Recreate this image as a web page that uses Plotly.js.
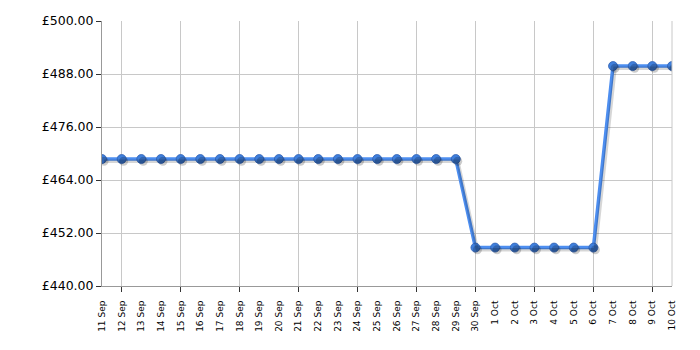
<!DOCTYPE html>
<html>
<head>
<meta charset="utf-8">
<script src="https://cdn.plot.ly/plotly-3.0.1.min.js"></script>
<style>html,body{margin:0;padding:0;background:#fff;}#chart{width:700px;height:350px;}</style>
</head>
<body>
<div id="chart"></div>
<script>
const dates = ["11 Sep","12 Sep","13 Sep","14 Sep","15 Sep","16 Sep","17 Sep","18 Sep","19 Sep","20 Sep",
  "21 Sep","22 Sep","23 Sep","24 Sep","25 Sep","26 Sep","27 Sep","28 Sep","29 Sep","30 Sep",
  "1 Oct","2 Oct","3 Oct","4 Oct","5 Oct","6 Oct","7 Oct","8 Oct","9 Oct","10 Oct"];
const prices = [468.75,468.75,468.75,468.75,468.75,468.75,468.75,468.75,468.75,468.75,
  468.75,468.75,468.75,468.75,468.75,468.75,468.75,468.75,468.75,448.7,
  448.7,448.7,448.7,448.7,448.7,448.7,489.8,489.8,489.8,489.8];
const yTicks = [440,452,464,476,488,500];
const yTickText = ["£440.00","£452.00","£464.00","£476.00","£488.00","£500.00"];
const gridIdx = [1,4,7,10,13,16,19,22,25,28];

const idx = dates.map((d,i)=>i);
const font = "DejaVu Sans, Verdana, sans-serif";

const shadow = {
  x: idx, y: prices, xaxis: 'x3', yaxis: 'y3', type: 'scatter', mode: 'lines+markers',
  line: {color: 'rgba(0,0,0,0.16)', width: 3.5},
  marker: {size: 9, color: 'rgba(0,0,0,0.2)'},
  hoverinfo: 'skip', showlegend: false
};
const main = {
  x: idx, y: prices, type: 'scatter', mode: 'lines+markers',
  line: {color: '#4d8ef0', width: 3.5},
  marker: {size: 9, color: '#3f7fdc', line: {color: '#3262b2', width: 0.8}},
  showlegend: false
};
const gridTrace = {x: [0], y: [440], xaxis: 'x2', yaxis: 'y', mode: 'markers',
  marker: {opacity: 0}, hoverinfo: 'skip', showlegend: false};

const layout = {
  width: 700, height: 350,
  margin: {l: 102, r: 28, t: 21, b: 64},
  paper_bgcolor: '#fff', plot_bgcolor: '#fff',
  font: {family: font, color: '#000'},
  xaxis: {
    range: [0, 29], tickvals: idx, ticktext: dates, tickangle: -90,
    showgrid: false, zeroline: false, showline: true, linecolor: '#999', linewidth: 1,
    ticks: 'outside', ticklen: 10, tickcolor: 'rgba(0,0,0,0)',
    tickfont: {family: font, size: 9, color: '#000'}
  },
  xaxis2: {
    overlaying: 'x', range: [0, 29], tickvals: gridIdx, showticklabels: false,
    showgrid: true, gridcolor: '#c8c8c8', gridwidth: 1, zeroline: false,
    ticks: 'outside', ticklen: 5, tickcolor: '#333', anchor: 'y'
  },
  xaxis3: {overlaying: 'x', range: [-0.1, 28.9], visible: false, anchor: 'y3'},
  yaxis: {
    range: [440, 500], tickvals: yTicks, ticktext: yTickText,
    showgrid: true, gridcolor: '#c8c8c8', gridwidth: 1, zeroline: false,
    showline: true, linecolor: '#999', linewidth: 1,
    ticks: 'outside', ticklen: 5, tickcolor: '#333',
    tickfont: {family: font, size: 12.5, color: '#000'}
  },
  yaxis3: {overlaying: 'y', range: [440.5, 500.5], visible: false, anchor: 'x3'},
  shapes: [{type: 'line', xref: 'paper', yref: 'paper', x0: 1, x1: 1, y0: 0, y1: 1,
    line: {color: '#c8c8c8', width: 1}}],
  showlegend: false
};

Plotly.newPlot('chart', [gridTrace, shadow, main], layout, {displayModeBar: false, staticPlot: true});
</script>
</body>
</html>
